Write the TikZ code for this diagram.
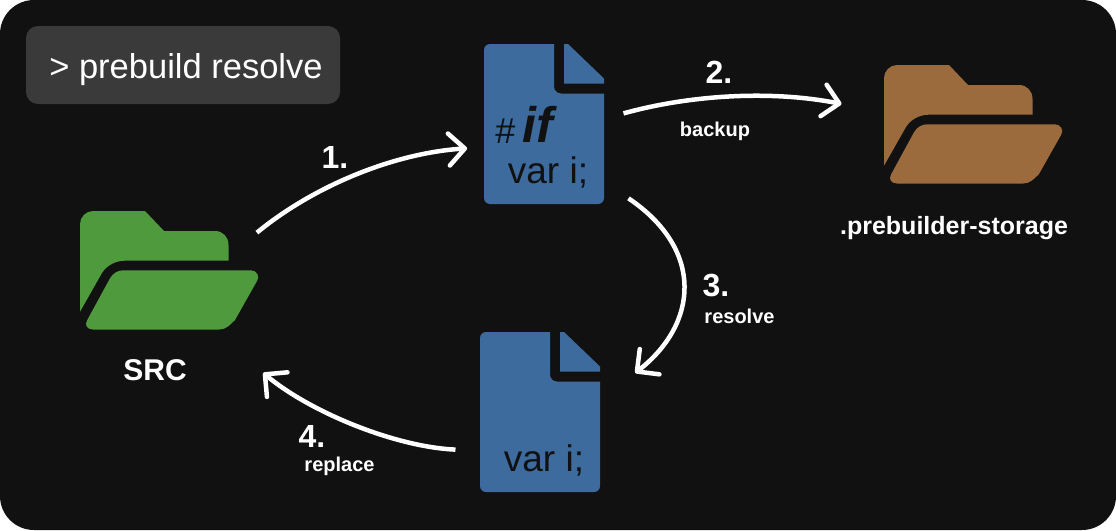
\documentclass[tikz,border=0pt]{standalone}
\usepackage{fontspec}
\setmainfont{Liberation Sans}
\usetikzlibrary{arrows.meta}
\definecolor{panelbg}{HTML}{111111}
\definecolor{cmdgray}{HTML}{3A3A3A}
\definecolor{srcgreen}{HTML}{4F9A3D}
\definecolor{fileblue}{HTML}{3D6B9E}
\definecolor{storebrown}{HTML}{9B6B3D}
\newcommand{\fsz}[1]{\fontsize{#1}{#1}\selectfont}
\tikzset{
    >={Straight Barb[length=16pt,width=32pt,round]},
    flow/.style={->,white,line width=4.5pt},
    stepnum/.style={white,anchor=base,inner sep=0pt,font=\fsz{32}\bfseries},
    steptag/.style={white,anchor=base,inner sep=0pt,font=\fsz{20}\bfseries},
    foldertag/.style={white,anchor=base,inner sep=0pt,font=\fsz{30}\bfseries},
    codetext/.style={panelbg,anchor=base,inner sep=0pt,font=\fsz{37}},
    folderbox/.style={minimum width=178pt,minimum height=119pt,inner sep=0pt},
    filebox/.style={minimum width=120pt,minimum height=160pt,inner sep=0pt},
    cmdbox/.style={fill=cmdgray,rounded corners=12pt,text=white,font=\fsz{34.5},
        inner sep=0pt,minimum width=314pt,minimum height=78pt,
        text height=31pt,text depth=5pt},
    folder/.pic={
        \fill[pic actions] (0,100.7) -- (0,13) .. controls (0,6) and (6,0) .. (13,0)
            -- (65,0) -- (84,20) -- (135,20) .. controls (143,20) and (148.5,26) .. (148.5,34)
            -- (148.5,49.7) -- (45,49.7) .. controls (36,49.7) and (27,54) .. (22,62) -- cycle;
        \fill[pic actions] (43.3,59.3) -- (171,59.3) .. controls (176.5,59.3) and (180,65) .. (177.3,69.5)
            -- (155,109) .. controls (150,114) and (146,118.5) .. (139.3,118.5)
            -- (13,118.5) .. controls (7,118.5) and (4.5,114) .. (7,109.5)
            -- (30,67.3) .. controls (33,62) and (38,59.3) .. (43.3,59.3) -- cycle;
    },
    file/.pic={
        \fill[pic actions] (0,80) [rounded corners=6pt] -- (0,0) [sharp corners] -- (70,0)
            [rounded corners=7pt] -- (70,49.5) [sharp corners] -- (120,49.5)
            [rounded corners=6pt] -- (120,160) -- (0,160) -- cycle;
        \fill[pic actions] (80,39.5) -- (80,0) -- (84,0) -- (120,34.5) -- (120,39.5) -- cycle;
    }
}

\begin{document}
\begin{tikzpicture}[x=1pt,y=-1pt]
    \useasboundingbox (0,0) rectangle (1116,530);
    \fill[panelbg,rounded corners=34pt] (0,0) rectangle (1116,530);

    % Command
    \node[cmdbox] (cmd) at (183,65) {\hspace{6pt}> prebuild resolve};

    % Folders
    \node[folderbox] (src) at (169,270.5) {};
    \pic[fill=srcgreen] at (80,211) {folder};
    \node[foldertag] (srcname) at (155,380) {SRC};
    \node[steptag,font=\fsz{25}\bfseries] (storagename) at (954,234) {.prebuilder-storage};
    \node[folderbox] (storage) at (973,124.5) {};
    \pic[fill=storebrown] at (884,65) {folder};

    % Files
    \node[filebox] (iffile) at (544,124) {};
    \pic[fill=fileblue] at (484,44) {file};
    \node[codetext,font=\fsz{36}] (hash) at (505.5,143) {\#};
    \node[codetext,font=\fsz{50}\bfseries\itshape] (ifword) at (538,142) {if};
    \node[codetext] (ifvar) at (548,183.5) {var i;};
    \node[filebox] (varfile) at (540,412) {};
    \pic[fill=fileblue] at (480,332) {file};
    \node[codetext] (plainvar) at (544,471) {var i;};

    % Arrows
    \draw[flow] ([xshift=-1.3pt]src.23) .. controls (315,185) and (395,153) .. ([xshift=-16.7pt]iffile.202);
    \draw[flow] ([xshift=19.3pt]iffile.10) .. controls (690,95) and (770,90) .. ([xshift=-42.3pt]storage.167);
    \draw[flow] ([xshift=24.3pt]iffile.-51.5) .. controls (705,250) and (698,324) .. ([xshift=35pt]varfile.33);
    \draw[flow] ([xshift=-24.3pt]varfile.212) .. controls (395,447) and (310,412) .. ([xshift=5pt,yshift=-42.7pt]src.south east);

    % Step labels
    \node[stepnum] (one) at (335,168) {1.};
    \node[stepnum] (two) at (719,83) {2.};
    \node[steptag] (backup) at (715,136) {backup};
    \node[stepnum] (three) at (716,296) {3.};
    \node[steptag] (resolve) at (739.5,323) {resolve};
    \node[stepnum] (four) at (312,447) {4.};
    \node[steptag] (replace) at (339.5,471) {replace};
\end{tikzpicture}
\end{document}
